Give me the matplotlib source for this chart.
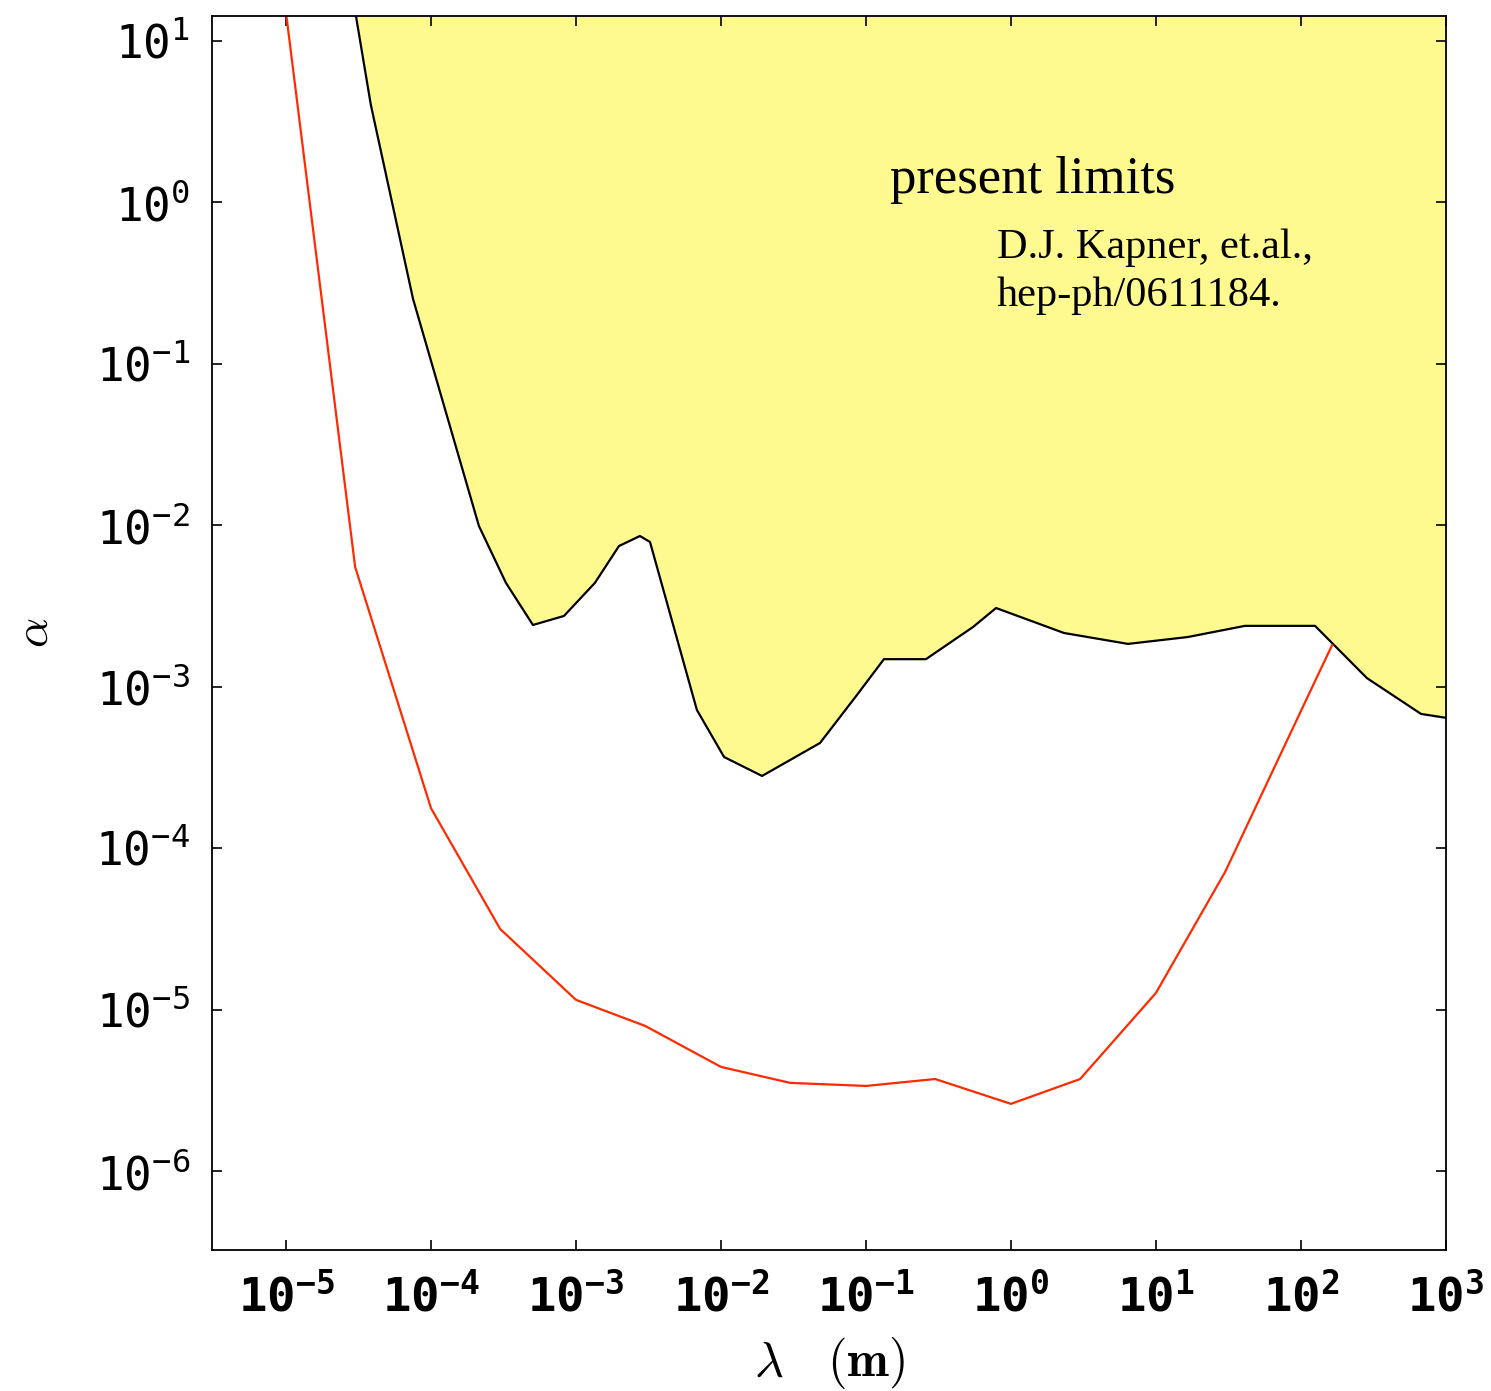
import matplotlib
matplotlib.use('Agg')
import matplotlib.pyplot as plt

# present limits (black boundary, excluded region above it)
lam_limit = [2.76e-5, 3.85e-5, 7.52e-5, 2.14e-4, 3.29e-4, 5.05e-4, 8.26e-4,
             1.35e-3, 1.98e-3, 2.76e-3, 3.24e-3, 6.82e-3, 1.05e-2, 1.92e-2,
             4.82e-2, 8.67e-2, 0.133, 0.259, 0.547, 0.789, 2.32, 6.41, 16.6,
             41.1, 125, 285, 673, 1016]
alpha_limit = [23.8, 4.0, 0.252, 9.9e-3, 4.39e-3, 2.41e-3, 2.74e-3,
               4.39e-3, 7.43e-3, 8.57e-3, 7.87e-3, 7.18e-4, 3.67e-4, 2.80e-4,
               4.48e-4, 8.89e-4, 1.48e-3, 1.48e-3, 2.34e-3, 3.07e-3, 2.15e-3,
               1.84e-3, 2.03e-3, 2.38e-3, 2.38e-3, 1.13e-3, 6.78e-4, 6.40e-4]

# red curve
lam_reach = [1e-5, 3e-5, 1e-4, 3e-4, 1e-3, 3e-3, 1e-2, 3e-2, 0.1, 0.3,
             1, 3, 10, 30, 100, 164]
alpha_reach = [15.0, 5.51e-3, 1.77e-4, 3.16e-5, 1.15e-5, 7.93e-6, 4.42e-6,
               3.52e-6, 3.37e-6, 3.72e-6, 2.61e-6, 3.72e-6, 1.27e-5, 7.13e-5,
               7.08e-4, 1.81e-3]

x_ticks = [1e-5, 1e-4, 1e-3, 1e-2, 1e-1, 1e0, 1e1, 1e2, 1e3]
x_ticklabels = [r'$\mathbf{10^{-5}}$', r'$\mathbf{10^{-4}}$', r'$\mathbf{10^{-3}}$',
                r'$\mathbf{10^{-2}}$', r'$\mathbf{10^{-1}}$', r'$\mathbf{10^{0}}$',
                r'$\mathbf{10^{1}}$', r'$\mathbf{10^{2}}$', r'$\mathbf{10^{3}}$']
y_ticks = [1e-6, 1e-5, 1e-4, 1e-3, 1e-2, 1e-1, 1e0, 1e1]
y_ticklabels = [r'$10^{-6}$', r'$10^{-5}$', r'$10^{-4}$', r'$10^{-3}$',
                r'$10^{-2}$', r'$10^{-1}$', r'$10^{0}$', r'$10^{1}$']

# monospaced digits for the tick labels (bold on x)
plt.rcParams['mathtext.rm'] = 'DejaVu Sans Mono'
plt.rcParams['mathtext.it'] = 'DejaVu Sans Mono'
plt.rcParams['mathtext.bf'] = 'DejaVu Sans Mono:bold'

fig = plt.figure(figsize=(14.91, 13.91), dpi=100)
ax = fig.add_axes([0.1422, 0.1014, 0.8276, 0.8871])

ax.fill_between(lam_limit, alpha_limit, 1e3, color='#fffa90', linewidth=0)
ax.plot(lam_limit, alpha_limit, color='black', linewidth=1.6)
ax.plot(lam_reach, alpha_reach, color='#ff2a00', linewidth=1.6)

ax.set_xscale('log')
ax.set_yscale('log')
ax.set_xlim(10**-5.51, 10**3.0)
ax.set_ylim(10**-6.488, 10**1.153)

ax.set_xticks(x_ticks)
ax.set_xticklabels(x_ticklabels, fontsize=34, math_fontfamily='custom')
ax.set_yticks(y_ticks)
ax.set_yticklabels(y_ticklabels, fontsize=33, math_fontfamily='custom')
ax.minorticks_off()
ax.tick_params(which='major', direction='in', length=7, width=1.2,
               top=True, right=True)
ax.tick_params(axis='x', pad=17)
ax.tick_params(axis='y', pad=16)
for side in ax.spines.values():
    side.set_linewidth(1.3)

ax.set_xlabel(r'$\lambda\quad(\mathbf{m})$', fontsize=36, math_fontfamily='cm',
              labelpad=10)
ax.set_ylabel(r'$\alpha$', fontsize=34, math_fontfamily='cm', labelpad=27)

ax.text(0.147, 1.14, 'present limits', fontsize=38, family='Liberation Serif')
ax.text(0.80, 0.452, 'D.J. Kapner, et.al.,', fontsize=30.5, family='Liberation Serif')
ax.text(0.80, 0.228, 'hep-ph/0611184.', fontsize=30.5, family='Liberation Serif')

fig.savefig('out.png', dpi=100)
